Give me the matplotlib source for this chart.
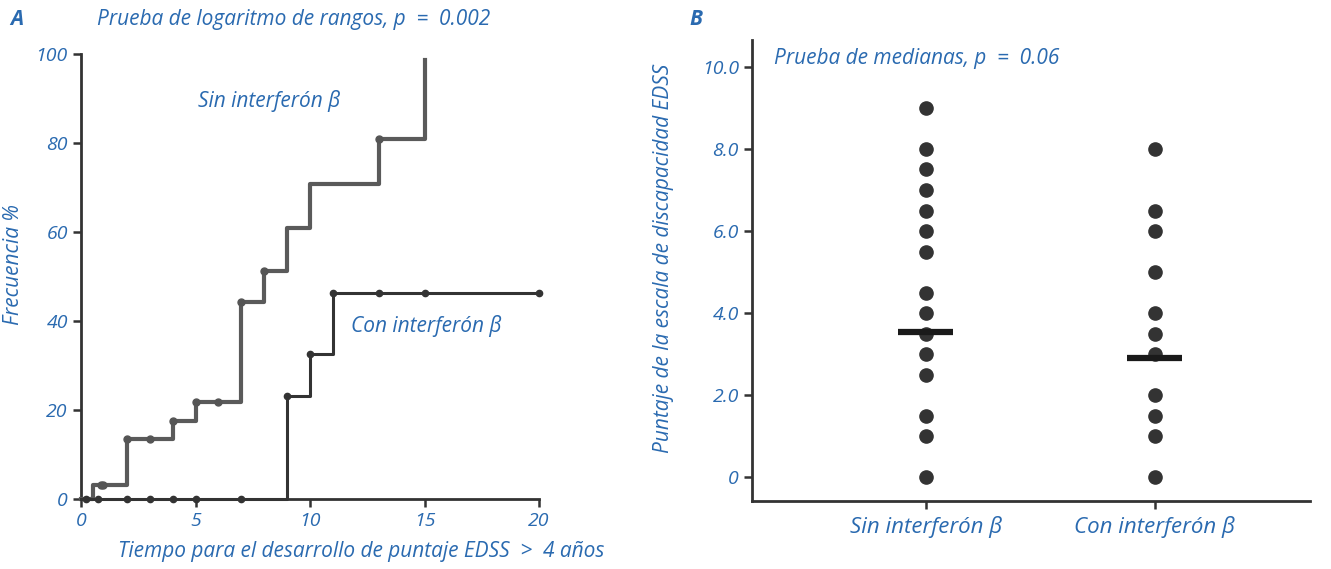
import numpy as np
import matplotlib
matplotlib.use("Agg")
import matplotlib.pyplot as plt

BLUE = "#2a6ab0"
DARK = "#333333"

# Panel A: Kaplan-Meier type step curves
sin_t = [0, 0.5, 2, 4, 5, 7, 8, 9, 10, 13, 15]
sin_f = [0, 3.1, 13.4, 17.6, 21.9, 44.3, 51.3, 61.0, 70.9, 80.8, 98.7]
sin_marks = [0.85, 0.97, 2, 3, 4, 5, 6, 7, 8, 13]

con_t = [0, 9, 10, 11, 20]
con_f = [0, 23.1, 32.7, 46.2, 46.2]
con_marks = [0.2, 0.75, 2, 3, 4, 5, 7, 9, 10, 11, 13, 15, 20]

# Panel B: EDSS scores per group
groups = ["Sin interferón β", "Con interferón β"]
sin_edss = [9, 8, 7.5, 7, 6.5, 6, 5.5, 4.5, 4, 3.5, 3, 2.5, 1.5, 1, 0]
con_edss = [8, 6.5, 6, 5, 4, 3.5, 3, 2, 1.5, 1, 0]
medians = [3.55, 2.9]


def step_value(t, f, x):
    """value of the post-step curve at x"""
    i = np.searchsorted(t, x, side="right") - 1
    return np.asarray(f)[i]


plt.rcParams["font.family"] = ["Open Sans", "DejaVu Sans"]
plt.rcParams["font.style"] = "italic"

fig = plt.figure(figsize=(13.31, 5.69), dpi=100)

# ---------- panel A ----------
ax = fig.add_axes([0.0609, 0.123, 0.3441, 0.782])
ax.step(sin_t, sin_f, where="post", color="#5a5a5a", lw=3, zorder=3, clip_on=False)
ax.plot(sin_marks, step_value(sin_t, sin_f, sin_marks), "o", color="#555555", ms=5,
        zorder=4, clip_on=False)
ax.step(con_t, con_f, where="post", color=DARK, lw=2.2, zorder=3, clip_on=False)
ax.plot(con_marks, step_value(con_t, con_f, con_marks), "o", color=DARK, ms=4.5,
        zorder=4, clip_on=False)

ax.set_xlim(0, 20)
ax.set_ylim(0, 100)
ax.set_xticks([0, 5, 10, 15, 20])
ax.set_yticks([0, 20, 40, 60, 80, 100])
for s in ["top", "right"]:
    ax.spines[s].set_visible(False)
for s in ["left", "bottom"]:
    ax.spines[s].set_color(DARK)
    ax.spines[s].set_linewidth(2)
ax.tick_params(colors=DARK, labelcolor=BLUE, labelsize=14, width=1.8, length=6)
ax.set_xlabel("Tiempo para el desarrollo de puntaje EDSS  >  4 años", color=BLUE,
              fontsize=15)
ax.xaxis.set_label_coords(0.612, -0.095)
ax.set_ylabel("Frecuencia %", color=BLUE, fontsize=15)
ax.yaxis.set_label_coords(-0.125, 0.526)
ax.text(5.1, 88, "Sin interferón β", color=BLUE, fontsize=15)
ax.text(11.8, 37.5, "Con interferón β", color=BLUE, fontsize=15)

fig.text(0.0075, 0.965, "A", color=BLUE, fontsize=15, fontweight="bold", va="center")
fig.text(0.073, 0.965, "Prueba de logaritmo de rangos, p  =  0.002", color=BLUE,
         fontsize=15, va="center")

# ---------- panel B ----------
bx = fig.add_axes([0.565, 0.1195, 0.4195, 0.8105])
bx.plot(np.full(len(sin_edss), 1), sin_edss, "o", color=DARK, ms=9.5, zorder=3)
bx.plot(np.full(len(con_edss), 2), con_edss, "o", color=DARK, ms=9.5, zorder=3)
for i, m in enumerate(medians):
    bx.plot([i + 1 - 0.12, i + 1 + 0.12], [m, m], color="#1a1a1a", lw=4.5,
            solid_capstyle="butt", zorder=4)

bx.set_xlim(0.24, 2.68)
bx.set_ylim(-0.58, 10.66)
bx.set_xticks([1, 2])
bx.set_xticklabels(groups)
bx.set_yticks([0, 2, 4, 6, 8, 10])
bx.set_yticklabels(["0", "2.0", "4.0", "6.0", "8.0", "10.0"])
for s in ["top", "right"]:
    bx.spines[s].set_visible(False)
for s in ["left", "bottom"]:
    bx.spines[s].set_color(DARK)
    bx.spines[s].set_linewidth(2)
bx.tick_params(colors=DARK, labelcolor=BLUE, labelsize=14, width=1.8, length=6)
bx.tick_params(axis="x", labelsize=16, pad=5)
bx.set_ylabel("Puntaje de la escala de discapacidad EDSS", color=BLUE, fontsize=15)
bx.yaxis.set_label_coords(-0.14, 0.527)
bx.text(0.04, 0.96, "Prueba de medianas, p  =  0.06", color=BLUE, fontsize=15,
        transform=bx.transAxes, va="center")

fig.text(0.518, 0.965, "B", color=BLUE, fontsize=15, fontweight="bold", va="center")

fig.savefig("out.png", dpi=100)
